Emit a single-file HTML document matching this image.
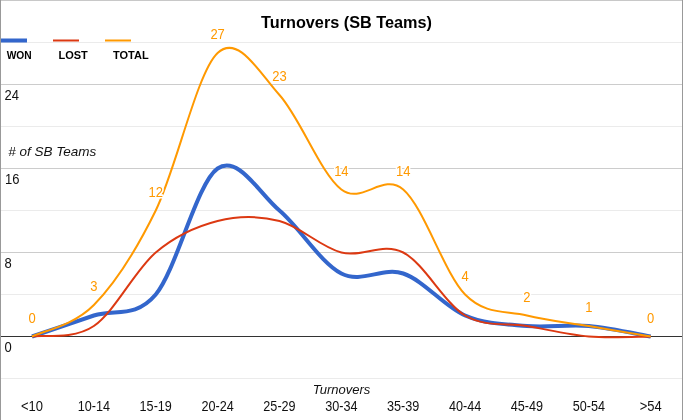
<!DOCTYPE html>
<html><head><meta charset="utf-8"><style>
html,body{margin:0;padding:0;background:#fff;}
svg{display:block;font-family:"Liberation Sans",sans-serif;will-change:transform;}
</style></head><body>
<svg width="683" height="420" viewBox="0 0 683 420">
<rect x="0" y="0" width="683" height="420" fill="#fff"/>
<rect x="1" y="42" width="681" height="1" fill="#ebebeb"/><rect x="1" y="126" width="681" height="1" fill="#ebebeb"/><rect x="1" y="210" width="681" height="1" fill="#ebebeb"/><rect x="1" y="294" width="681" height="1" fill="#ebebeb"/><rect x="1" y="378" width="681" height="1" fill="#ebebeb"/><rect x="1" y="84" width="681" height="1" fill="#cccccc"/><rect x="1" y="168" width="681" height="1" fill="#cccccc"/><rect x="1" y="252" width="681" height="1" fill="#cccccc"/>
<rect x="1" y="336" width="681" height="1" fill="#333"/>
<rect x="0" y="0" width="683" height="1" fill="#c8c8c8"/>
<rect x="0" y="0" width="1" height="420" fill="#999999"/>
<rect x="682" y="0" width="1" height="420" fill="#999999"/>
<text x="261" y="28" font-size="16" font-weight="bold" fill="#000" textLength="171" lengthAdjust="spacingAndGlyphs">Turnovers (SB Teams)</text>
<rect x="1" y="38.5" width="26" height="4" fill="#3366cc"/>
<rect x="53" y="39.5" width="26" height="2" fill="#dc3912"/>
<rect x="105" y="39.5" width="26" height="2" fill="#ff9900"/>
<g font-size="11" font-weight="bold" fill="#000">
<text x="6.7" y="59" textLength="25" lengthAdjust="spacingAndGlyphs">WON</text><text x="58.5" y="59">LOST</text><text x="113" y="59">TOTAL</text>
</g>
<g font-size="13" fill="#111">
<text transform="translate(4.50 100.00) scale(1 1.080)">24</text><text transform="translate(5.00 184.00) scale(1 1.080)">16</text><text transform="translate(4.50 268.00) scale(1 1.080)">8</text><text transform="translate(4.50 352.00) scale(1 1.080)">0</text>
<text transform="translate(32.00 411.00) scale(1 1.080)" text-anchor="middle">&lt;10</text><text transform="translate(93.87 411.00) scale(1 1.080)" text-anchor="middle" textLength="32.3" lengthAdjust="spacingAndGlyphs">10-14</text><text transform="translate(155.74 411.00) scale(1 1.080)" text-anchor="middle" textLength="32.3" lengthAdjust="spacingAndGlyphs">15-19</text><text transform="translate(217.61 411.00) scale(1 1.080)" text-anchor="middle" textLength="32.3" lengthAdjust="spacingAndGlyphs">20-24</text><text transform="translate(279.48 411.00) scale(1 1.080)" text-anchor="middle" textLength="32.3" lengthAdjust="spacingAndGlyphs">25-29</text><text transform="translate(341.35 411.00) scale(1 1.080)" text-anchor="middle" textLength="32.3" lengthAdjust="spacingAndGlyphs">30-34</text><text transform="translate(403.22 411.00) scale(1 1.080)" text-anchor="middle" textLength="32.3" lengthAdjust="spacingAndGlyphs">35-39</text><text transform="translate(465.09 411.00) scale(1 1.080)" text-anchor="middle" textLength="32.3" lengthAdjust="spacingAndGlyphs">40-44</text><text transform="translate(526.96 411.00) scale(1 1.080)" text-anchor="middle" textLength="32.3" lengthAdjust="spacingAndGlyphs">45-49</text><text transform="translate(588.83 411.00) scale(1 1.080)" text-anchor="middle" textLength="32.3" lengthAdjust="spacingAndGlyphs">50-54</text><text transform="translate(650.70 411.00) scale(1 1.080)" text-anchor="middle">&gt;54</text>
</g>
<g font-size="13" font-style="italic" fill="#111">
<text transform="translate(8.30 156.00) scale(1 1.000)" textLength="88" lengthAdjust="spacingAndGlyphs"># of SB Teams</text>
<text transform="translate(341.50 394.00) scale(1 1.000)" text-anchor="middle">Turnovers</text>
</g>
<g fill="none" stroke-linecap="butt" stroke-linejoin="round">
<path d="M32.00 336.50 C42.31 333.00 73.25 322.50 93.87 315.50 C114.49 308.50 135.12 319.00 155.74 294.50 C176.36 270.00 196.99 182.50 217.61 168.50 C238.23 154.50 258.86 193.00 279.48 210.50 C300.10 228.00 320.73 263.00 341.35 273.50 C361.97 284.00 382.60 266.50 403.22 273.50 C423.84 280.50 444.47 306.75 465.09 315.50 C485.71 324.25 506.34 324.25 526.96 326.00 C547.58 327.75 568.21 324.25 588.83 326.00 C609.45 327.75 640.39 334.75 650.70 336.50" stroke="#3366cc" stroke-width="4"/>
<path d="M32.00 336.50 C42.31 334.75 73.25 340.00 93.87 326.00 C114.49 312.00 135.12 270.00 155.74 252.50 C176.36 235.00 196.99 226.25 217.61 221.00 C238.23 215.75 258.86 215.75 279.48 221.00 C300.10 226.25 320.73 247.25 341.35 252.50 C361.97 257.75 382.60 242.00 403.22 252.50 C423.84 263.00 444.47 303.25 465.09 315.50 C485.71 327.75 506.34 322.50 526.96 326.00 C547.58 329.50 568.21 334.75 588.83 336.50 C609.45 338.25 640.39 336.50 650.70 336.50" stroke="#dc3912" stroke-width="2"/>
<path d="M32.00 336.50 C42.31 331.25 73.25 326.00 93.87 305.00 C114.49 284.00 135.12 252.50 155.74 210.50 C176.36 168.50 196.99 72.25 217.61 53.00 C238.23 33.75 258.86 72.25 279.48 95.00 C300.10 117.75 320.73 173.75 341.35 189.50 C361.97 205.25 382.60 172.00 403.22 189.50 C423.84 207.00 444.47 273.50 465.09 294.50 C485.71 315.50 506.34 310.25 526.96 315.50 C547.58 320.75 568.21 322.50 588.83 326.00 C609.45 329.50 640.39 334.75 650.70 336.50" stroke="#ff9900" stroke-width="2"/>
</g>
<g font-size="13" fill="#ff9900" stroke="#fff" stroke-width="3" stroke-linejoin="round" paint-order="stroke">
<text transform="translate(32.00 322.50) scale(1 1.080)" text-anchor="middle">0</text><text transform="translate(93.87 291.00) scale(1 1.080)" text-anchor="middle">3</text><text transform="translate(155.74 196.50) scale(1 1.080)" text-anchor="middle">12</text><text transform="translate(217.61 39.00) scale(1 1.080)" text-anchor="middle">27</text><text transform="translate(279.48 81.00) scale(1 1.080)" text-anchor="middle">23</text><text transform="translate(341.35 175.50) scale(1 1.080)" text-anchor="middle">14</text><text transform="translate(403.22 175.50) scale(1 1.080)" text-anchor="middle">14</text><text transform="translate(465.09 280.50) scale(1 1.080)" text-anchor="middle">4</text><text transform="translate(526.96 301.50) scale(1 1.080)" text-anchor="middle">2</text><text transform="translate(588.83 312.00) scale(1 1.080)" text-anchor="middle">1</text><text transform="translate(650.70 322.50) scale(1 1.080)" text-anchor="middle">0</text>
</g>
</svg>
</body></html>
